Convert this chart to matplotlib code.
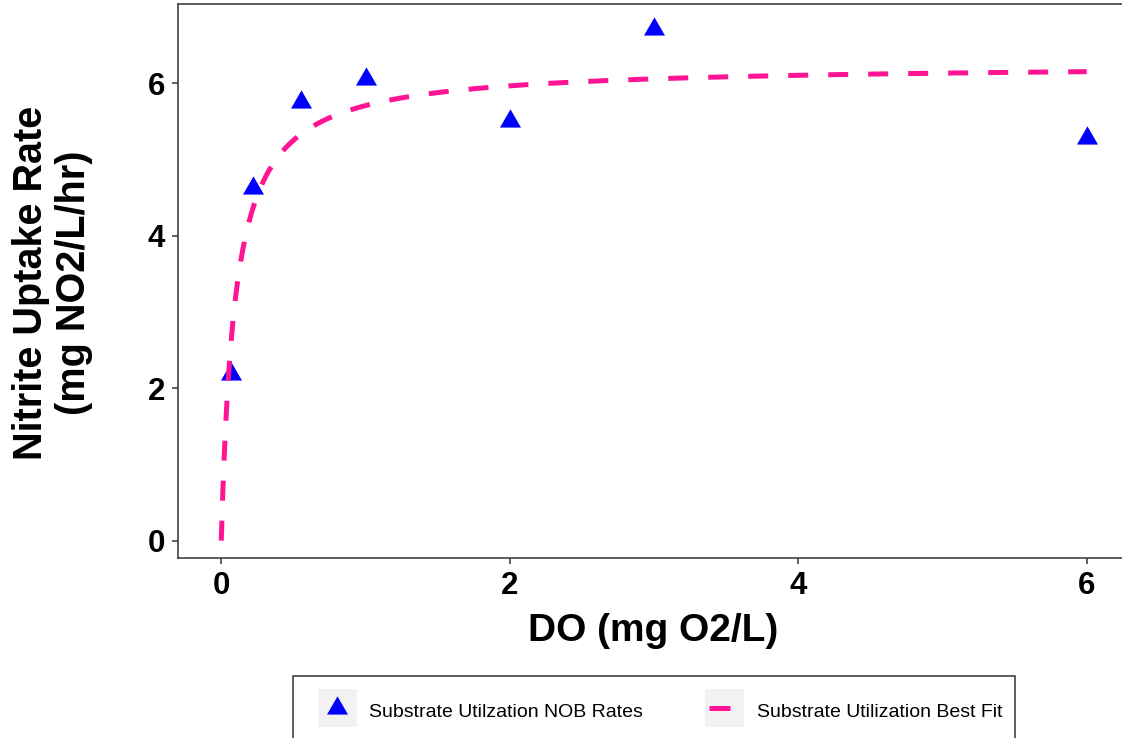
import numpy as np
import matplotlib
matplotlib.use("Agg")
import matplotlib.pyplot as plt
from matplotlib.transforms import Affine2D
from matplotlib.patches import Rectangle
from matplotlib.lines import Line2D

# Measured NOB nitrite uptake rates at each dissolved-oxygen level
do_conc = [0.07, 0.22, 0.55, 1.0, 2.0, 3.0, 6.0]
uptake_rate = [2.19, 4.62, 5.76, 6.05, 5.51, 6.71, 5.28]

# Monod (substrate utilization) best-fit parameters
v_max = 6.25
k_s = 0.095

x_ticks = [0, 2, 4, 6]
y_ticks = [0, 2, 4, 6]

series_labels = ["Substrate Utilzation NOB Rates", "Substrate Utilization Best Fit"]
x_title = "DO (mg O2/L)"
y_title = "Nitrite Uptake Rate\n(mg NO2/L/hr)"

POINT_COLOR = "#0000FF"
FIT_COLOR = "#FF1493"
AXIS_COLOR = "#333333"

plt.rcParams["font.family"] = ["Liberation Sans", "DejaVu Sans"]
plt.rcParams["font.weight"] = "bold"

W, H = 1122, 738
fig = plt.figure(figsize=(W / 100, H / 100), dpi=100)
ax = fig.add_axes([178 / W, 1 - 557.7 / H, (1130 - 178) / W, (557.7 - 4.4) / H])

# equilateral triangle centred on its centroid
tri = [(0, 1), (-0.866, -0.5), (0.866, -0.5)]

ax.plot(do_conc, uptake_rate, linestyle="none", marker=tri, markersize=17.5,
        markerfacecolor=POINT_COLOR, markeredgewidth=0, zorder=3)

fit_x = np.linspace(0, 6, 601)
fit_y = v_max * fit_x / (k_s + fit_x)
ax.plot(fit_x, fit_y, color=FIT_COLOR, linewidth=3.6, dashes=(4, 4),
        dash_capstyle="butt", zorder=4)

ax.set_xlim(-0.3, 6.3)
ax.set_ylim(-0.224, 7.035)
ax.set_xticks(x_ticks)
ax.set_yticks(y_ticks)
ax.set_xticklabels([str(t) for t in x_ticks])
ax.set_yticklabels([str(t) for t in y_ticks])

for sp in ax.spines.values():
    sp.set_color(AXIS_COLOR)
    sp.set_linewidth(1.1)

ax.tick_params(axis="both", length=4.3, width=1.1, color=AXIS_COLOR,
               labelsize=22.5, labelcolor="black")
ax.tick_params(axis="x", pad=5.5)
ax.tick_params(axis="y", pad=5)

fig.text(653 / W, 1 - 641 / H, x_title, ha="center", va="baseline",
         fontsize=28, fontweight="bold")
fig.text(52.5 / W, 1 - 283 / H, y_title, ha="center", va="center",
         rotation=90, multialignment="center", fontsize=28.5,
         fontweight="bold", linespacing=1.17)

# legend, laid out in figure pixels (origin at top-left)
px = Affine2D().scale(1 / W, -1 / H).translate(0, 1) + fig.transFigure

fig.add_artist(Rectangle((293, 676), 1015 - 293, 90, transform=px,
                         facecolor="white", edgecolor=AXIS_COLOR,
                         linewidth=1.1))
for kx in (318, 705):
    fig.add_artist(Rectangle((kx, 689), 39, 38, transform=px,
                             facecolor="#F2F2F2", edgecolor="none"))

fig.add_artist(Line2D([337.5], [708], transform=px, linestyle="none",
                      marker=tri, markersize=17.5,
                      markerfacecolor=POINT_COLOR, markeredgewidth=0))
fig.add_artist(Line2D([709, 730], [708, 708], transform=px,
                      color=FIT_COLOR, linewidth=3.6,
                      solid_capstyle="butt"))

for tx, label in zip((369, 757), series_labels):
    fig.text(tx, 717, label, transform=px, ha="left", va="baseline",
             fontsize=14, fontweight="normal", color="black")

fig.savefig("out.png", dpi=100)
